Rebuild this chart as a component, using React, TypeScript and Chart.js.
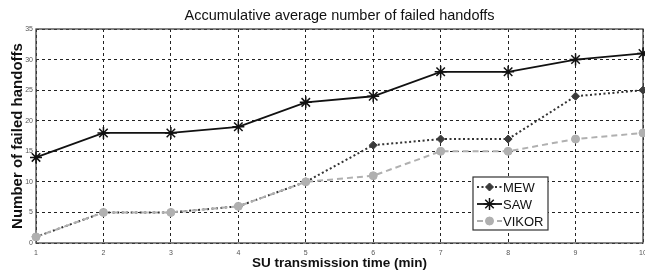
import React, { useEffect, useRef } from 'react';
import { Chart, registerables } from 'chart.js';
import { drawPoint } from 'chart.js/helpers';

Chart.register(...registerables);

const timeMin = [1, 2, 3, 4, 5, 6, 7, 8, 9, 10];
const mewValues = [1, 5, 5, 6, 10, 16, 17, 17, 24, 25];
const sawValues = [14, 18, 18, 19, 23, 24, 28, 28, 30, 31];
const vikorValues = [1, 5, 5, 6, 10, 11, 15, 15, 17, 18];
const seriesNames = ['MEW', 'SAW', 'VIKOR'];

const toPoints = (ys: number[]) => ys.map((y, i) => ({ x: timeMin[i], y }));

const framePlugin = {
  id: 'frame',
  beforeDatasetsDraw(chart: any) {
    const { ctx, chartArea } = chart;
    ctx.save();
    ctx.strokeStyle = '#444';
    ctx.lineWidth = 1.3;
    ctx.setLineDash([]);
    ctx.strokeRect(chartArea.left, chartArea.top, chartArea.right - chartArea.left, chartArea.bottom - chartArea.top);
    ctx.restore();
  },
};

const legendPlugin = {
  id: 'insideLegend',
  afterDraw(chart: any) {
    const { ctx, chartArea } = chart;
    const bx = chartArea.right - 170;
    const by = chartArea.bottom - 66;
    const bw = 75;
    const bh = 53;
    ctx.save();
    ctx.fillStyle = '#fff';
    ctx.fillRect(bx, by, bw, bh);
    ctx.strokeStyle = '#333';
    ctx.lineWidth = 1.2;
    ctx.setLineDash([]);
    ctx.strokeRect(bx, by, bw, bh);
    seriesNames.forEach((name, i) => {
      const ds = chart.data.datasets.find((d: any) => d.label === name);
      const y = by + 10 + i * 17;
      ctx.save();
      ctx.strokeStyle = ds.borderColor;
      ctx.lineWidth = ds.borderWidth;
      ctx.setLineDash(ds.borderDash || []);
      ctx.beginPath();
      ctx.moveTo(bx + 4, y);
      ctx.lineTo(bx + 29, y);
      ctx.stroke();
      ctx.setLineDash([]);
      ctx.fillStyle = ds.pointBackgroundColor;
      ctx.strokeStyle = ds.pointBorderColor;
      ctx.lineWidth = ds.pointBorderWidth;
      drawPoint(ctx, { pointStyle: ds.pointStyle, radius: ds.pointRadius, rotation: 0, borderWidth: ds.pointBorderWidth }, bx + 16.5, y);
      ctx.restore();
      ctx.fillStyle = '#111';
      ctx.font = '13px Arial, "Liberation Sans", sans-serif';
      ctx.textBaseline = 'middle';
      ctx.textAlign = 'left';
      ctx.fillText(name, bx + 30, y + 1);
    });
    ctx.restore();
  },
};

export default function App() {
  const ref = useRef<HTMLCanvasElement | null>(null);
  useEffect(() => {
    document.body.style.margin = '0';
    const canvas = ref.current;
    if (!canvas) return;
    const chart = new Chart(canvas, {
      type: 'line',
      data: {
        datasets: [
          {
            label: 'MEW',
            data: toPoints(mewValues),
            borderColor: '#333',
            borderWidth: 2,
            borderDash: [2, 2.5],
            pointStyle: 'rectRot',
            pointRadius: 4,
            pointBackgroundColor: '#3a3a3a',
            pointBorderColor: '#3a3a3a',
            pointBorderWidth: 1,
            order: 2,
            clip: false,
          },
          {
            label: 'SAW',
            data: toPoints(sawValues),
            borderColor: '#111',
            borderWidth: 1.8,
            pointStyle: 'star',
            pointRadius: 6,
            pointBackgroundColor: '#111',
            pointBorderColor: '#111',
            pointBorderWidth: 1.5,
            order: 1,
            clip: false,
          },
          {
            label: 'VIKOR',
            data: toPoints(vikorValues),
            borderColor: '#b0b0b0',
            borderWidth: 2,
            borderDash: [6, 4],
            pointStyle: 'circle',
            pointRadius: 4,
            pointBackgroundColor: '#b0b0b0',
            pointBorderColor: '#b0b0b0',
            pointBorderWidth: 1,
            order: 0,
            clip: false,
          },
        ] as any,
      },
      plugins: [framePlugin, legendPlugin],
      options: {
        responsive: false,
        animation: false,
        layout: { padding: 0, autoPadding: false },
        plugins: {
          legend: { display: false },
          tooltip: { enabled: false },
          title: {
            display: true,
            fullSize: false,
            text: 'Accumulative average number of failed handoffs',
            color: '#111',
            font: { family: 'Arial, "Liberation Sans", sans-serif', size: 14.5, weight: 'normal' },
            padding: { top: 7.3, bottom: 4.3 },
          },
        },
        scales: {
          x: {
            type: 'linear',
            min: 1,
            max: 10,
            ticks: {
              stepSize: 1,
              color: '#555',
              padding: 6,
              font: { family: 'Arial, "Liberation Sans", sans-serif', size: 7 },
            },
            grid: { color: '#222', lineWidth: 1, drawTicks: false },
            border: { display: false, dash: [3, 3] },
            title: {
              display: true,
              text: 'SU transmission time (min)',
              color: '#111',
              font: { family: 'Arial, "Liberation Sans", sans-serif', size: 13.5, weight: 'bold' },
              padding: { top: 2, bottom: 0 },
            },
            afterFit(scale: any) {
              scale.height = 28;
              scale.paddingRight = 2;
            },
          },
          y: {
            type: 'linear',
            min: 0,
            max: 35,
            ticks: {
              stepSize: 5,
              color: '#555',
              padding: 3,
              font: { family: 'Arial, "Liberation Sans", sans-serif', size: 7 },
            },
            grid: { color: '#222', lineWidth: 1, drawTicks: false },
            border: { display: false, dash: [3, 3] },
            title: {
              display: true,
              text: 'Number of failed handoffs',
              color: '#111',
              font: { family: 'Arial, "Liberation Sans", sans-serif', size: 15, weight: 'bold' },
              padding: { top: 8.5, bottom: 0 },
            },
            afterFit(scale: any) {
              scale.width = 36;
            },
          },
        },
      } as any,
    });
    return () => chart.destroy();
  }, []);
  return (
    <div style={{ width: 645, height: 271, background: '#fff' }}>
      <canvas ref={ref} width={645} height={271} style={{ display: 'block' }} />
    </div>
  );
}
